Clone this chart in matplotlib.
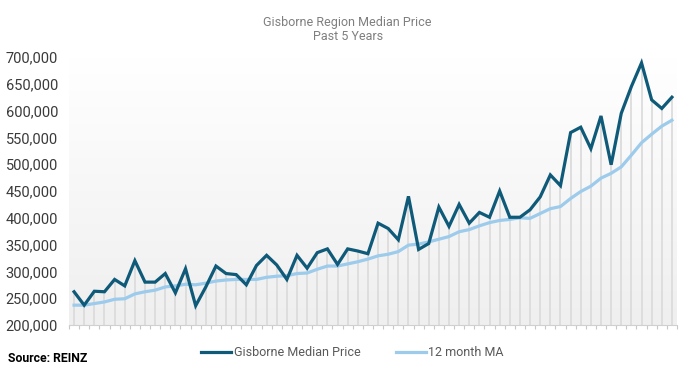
import numpy as np
import matplotlib
matplotlib.use("Agg")
import matplotlib.pyplot as plt
from matplotlib.ticker import FuncFormatter

plt.rcParams['font.family'] = ['Roboto', 'DejaVu Sans']

# monthly values, last 5 years (60 months)
median_price = [262000, 237000, 263000, 262000, 285000, 273000, 320000, 280000, 280000, 296000,
                260000, 305000, 236000, 271000, 310000, 296000, 294000, 275000, 311000, 330000,
                312000, 285000, 330000, 306000, 335000, 342000, 313000, 342000, 338000, 333000,
                390000, 380000, 359000, 440000, 341000, 352000, 420000, 384000, 425000, 390000,
                410000, 401000, 450000, 401000, 401000, 415000, 439000, 480000, 460000, 559000,
                569000, 529000, 590000, 499000, 595000, 645000, 689000, 620000, 604000, 625000]
ma_12 = [237000, 237000, 240000, 243000, 248000, 249000, 258000, 262000, 265000, 271000,
         273000, 276000, 275000, 278000, 282000, 284000, 285000, 285000, 285000, 289000,
         291000, 292000, 296000, 297000, 304000, 310000, 310000, 314000, 318000, 323000,
         329000, 332000, 337000, 349000, 351000, 355000, 360000, 365000, 374000, 378000,
         385000, 391000, 395000, 397000, 400000, 399000, 408000, 417000, 421000, 436000,
         449000, 459000, 474000, 483000, 495000, 517000, 540000, 556000, 571000, 582000]
y_ticks = [200000, 250000, 300000, 350000, 400000, 450000, 500000, 550000, 600000, 650000, 700000]

dark = '#0e5a78'
light = '#9ccbec'

fig = plt.figure(figsize=(6.91, 3.74), dpi=100)
ax = fig.add_axes([69 / 691, 49 / 374, 608 / 691, 268 / 374])

x = np.arange(len(median_price))

# background gradient
grad = np.linspace(1, 0, 256).reshape(-1, 1)
ax.imshow(grad, extent=[0, 1, 0, 1], transform=ax.transAxes, aspect='auto',
          cmap=matplotlib.colors.LinearSegmentedColormap.from_list('bg', ['#efefef', '#ffffff']),
          vmin=0, vmax=1, zorder=0)

# drop lines
ax.vlines(x, 200000, median_price, color='#dcdcdc', lw=1.3, zorder=1)

ax.plot(x, median_price, color=dark, lw=2.3, label='Gisborne Median Price', zorder=3,
        solid_joinstyle='miter')
ax.plot(x, ma_12, color=light, lw=2.3, label='12 month MA', zorder=2)

ax.set_xlim(-0.5, len(x) - 0.5)
ax.set_ylim(200000, 700000)
ax.set_yticks(y_ticks)
ax.yaxis.set_major_formatter(FuncFormatter(lambda v, p: f'{int(v):,}'))
ax.set_xticks(np.arange(-0.5, len(x), 1))
ax.set_xticklabels([])
ax.tick_params(axis='x', length=3, color='#c8c8c8', width=0.8)
ax.tick_params(axis='y', length=0, labelsize=10.5, labelcolor='#3a3a3a', pad=8)
for s in ['top', 'right', 'left']:
    ax.spines[s].set_visible(False)
ax.spines['bottom'].set_color('#d0d0d0')

fig.text(0.503, 0.958, 'Gisborne Region Median Price\nPast 5 Years', ha='center', va='top',
         fontsize=9, color='#7f7f7f', linespacing=1.1)

fig.legend(loc='center', bbox_to_anchor=(0.51, 0.057), ncol=2, frameon=False,
           fontsize=9, labelcolor='#595959', handlelength=2.4, handletextpad=0.2,
           columnspacing=2.8)

fig.text(8 / 691, 0.042, 'Source: REINZ', fontsize=8.8, fontweight='bold', color='black',
         va='center')

fig.savefig('out.png', dpi=100)
